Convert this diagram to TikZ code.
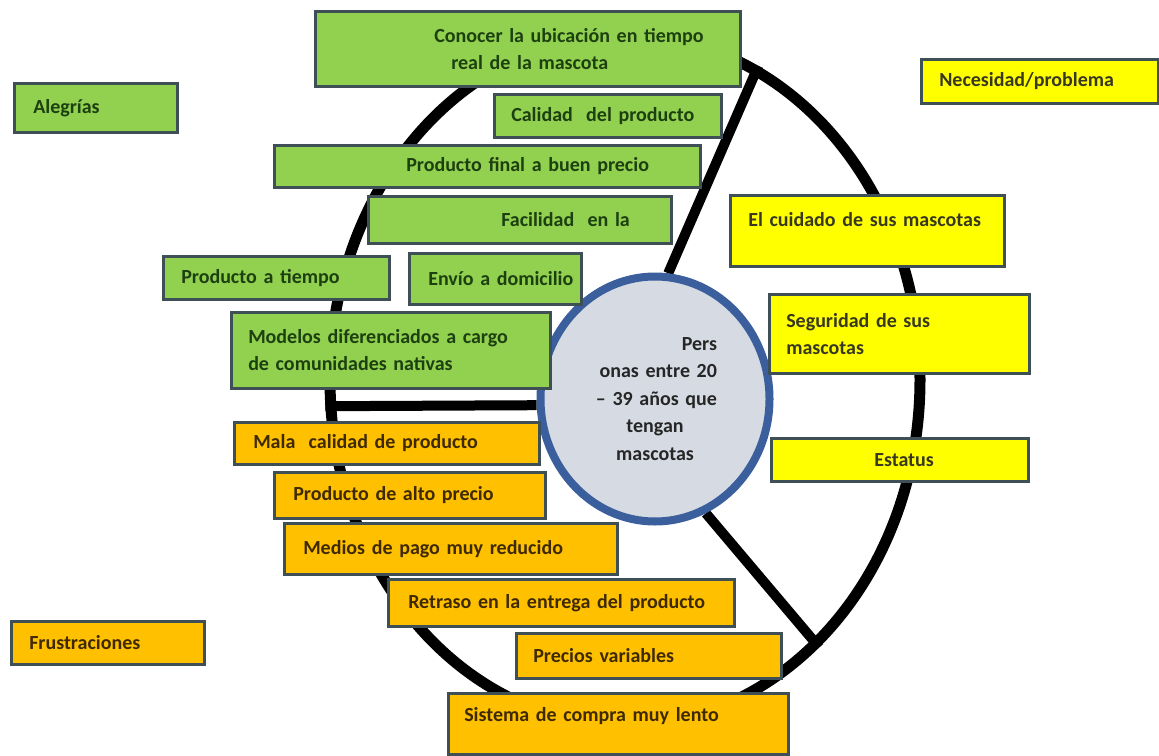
\documentclass[tikz,border=0pt]{standalone}
\usepackage{fontspec}
\setmainfont{Carlito}
\usetikzlibrary{shapes.geometric, backgrounds}
\definecolor{verdecaja}{HTML}{92D050}
\definecolor{naranjacaja}{HTML}{FFC000}
\definecolor{amarillocaja}{HTML}{FFFF00}
\definecolor{bordecaja}{HTML}{3E4F55}
\definecolor{textoverde}{HTML}{1D4010}
\definecolor{textonaranja}{HTML}{3F2A00}
\definecolor{textoamarillo}{HTML}{383820}
\definecolor{azulcirculo}{HTML}{3B5E9C}
\definecolor{griscirculo}{HTML}{D5DAE3}
\definecolor{textocirculo}{HTML}{262626}

\begin{document}
\begin{tikzpicture}[x=1pt, y=-1pt,
    caja/.style={draw=bordecaja, line width=2.5pt, anchor=north west, inner xsep=0pt, inner ysep=0pt,
        align=left, font=\bfseries\fontsize{20}{27}\selectfont},
    verde/.style={caja, fill=verdecaja, text=textoverde},
    naranja/.style={caja, fill=naranjacaja, text=textonaranja},
    amarillo/.style={caja, fill=amarillocaja, text=textoamarillo},
    radio/.style={line width=10pt, draw=black}]
    \useasboundingbox (0,0) rectangle (1159,755);

    \node[ellipse, draw=azulcirculo, line width=8pt, fill=griscirculo, minimum width=229pt, minimum height=245pt,
        inner sep=0pt, text width=124pt, align=center, text=textocirculo,
        font=\bfseries\fontsize{20}{27.5}\selectfont] (persona) at (655,399)
        {\hskip0pt plus1fill\mbox{Pers}\\ \hskip0pt plus1fill\mbox{onas entre 20}\\
         \hskip0pt plus1fill\mbox{-- 39 años que}\\ tengan\\ mascotas};

    \begin{pgfonlayer}{background}
    \node[ellipse, draw, line width=11pt, minimum width=590pt, minimum height=690pt, inner sep=0pt] (rueda) at (625,380) {};
    \draw[radio] (rueda.185) -- (persona.183);
    \draw[radio] (rueda.67) -- (persona.84);
    \draw[radio] (rueda.306) -- (persona.294);
    \end{pgfonlayer}

    \node[verde, text width=425pt, minimum height=75pt] (conocer) at (314,10)
        {\hspace*{119pt}Conocer la ubicación en tiempo\\\hspace*{136pt}real de la mascota};
    \node[verde, text width=227pt, minimum height=43pt] (calidad) at (493,93) {\hspace*{17pt}Calidad\ \ del producto};
    \node[verde, text width=426pt, minimum height=42pt] (precio) at (273,144) {\hspace*{132pt}Producto final a buen precio};
    \node[verde, text width=303pt, minimum height=47pt] (facilidad) at (367,195) {\hspace*{133pt}Facilidad\ \ en la};
    \node[verde, text width=226pt, minimum height=43pt] (tiempo) at (162,255) {\hspace*{18pt}Producto a tiempo};
    \node[verde, text width=172pt, minimum height=51pt] (envio) at (408,252) {\hspace*{19pt}Envío a domicilio};
    \node[verde, text width=319pt, minimum height=76pt] (modelos) at (230,311)
        {\hspace*{17pt}Modelos diferenciados a cargo\\\hspace*{17pt}de comunidades nativas};
    \node[verde, text width=163pt, minimum height=49pt] (alegrias) at (13,82) {\hspace*{19pt}Alegrías};

    \node[naranja, text width=305pt, minimum height=42pt] (mala) at (233,421) {\hspace*{19pt}Mala\ \ calidad de producto};
    \node[naranja, text width=271pt, minimum height=46pt] (alto) at (273,471) {\hspace*{19pt}Producto de alto precio};
    \node[naranja, text width=333pt, minimum height=51pt] (medios) at (283,522) {\hspace*{19pt}Medios de pago muy reducido};
    \node[naranja, text width=346pt, minimum height=47pt] (retraso) at (387,578) {\hspace*{20pt}Retraso en la entrega del producto};
    \node[naranja, text width=265pt, minimum height=45pt] (variables) at (515,632) {\hspace*{17pt}Precios variables};
    \node[naranja, text width=340pt, minimum height=61pt, text depth=18pt] (sistema) at (447,692) {\hspace*{16pt}Sistema de compra muy lento};
    \node[naranja, text width=193pt, minimum height=43pt] (frustraciones) at (10,620) {\hspace*{18pt}Frustraciones};

    \node[amarillo, text width=237pt, minimum height=44pt] (necesidad) at (920,58) {\hspace*{18pt}Necesidad/problema};
    \node[amarillo, text width=274pt, minimum height=71pt, text depth=22pt] (cuidado) at (729,194) {\hspace*{18pt}El cuidado de sus mascotas};
    \node[amarillo, text width=260pt, minimum height=79pt] (seguridad) at (768,293)
        {\hspace*{17pt}Seguridad de sus\\\hspace*{17pt}mascotas};
    \node[amarillo, text width=257pt, minimum height=43pt] (estatus) at (770,437) {\hspace*{103pt}Estatus};
\end{tikzpicture}
\end{document}
